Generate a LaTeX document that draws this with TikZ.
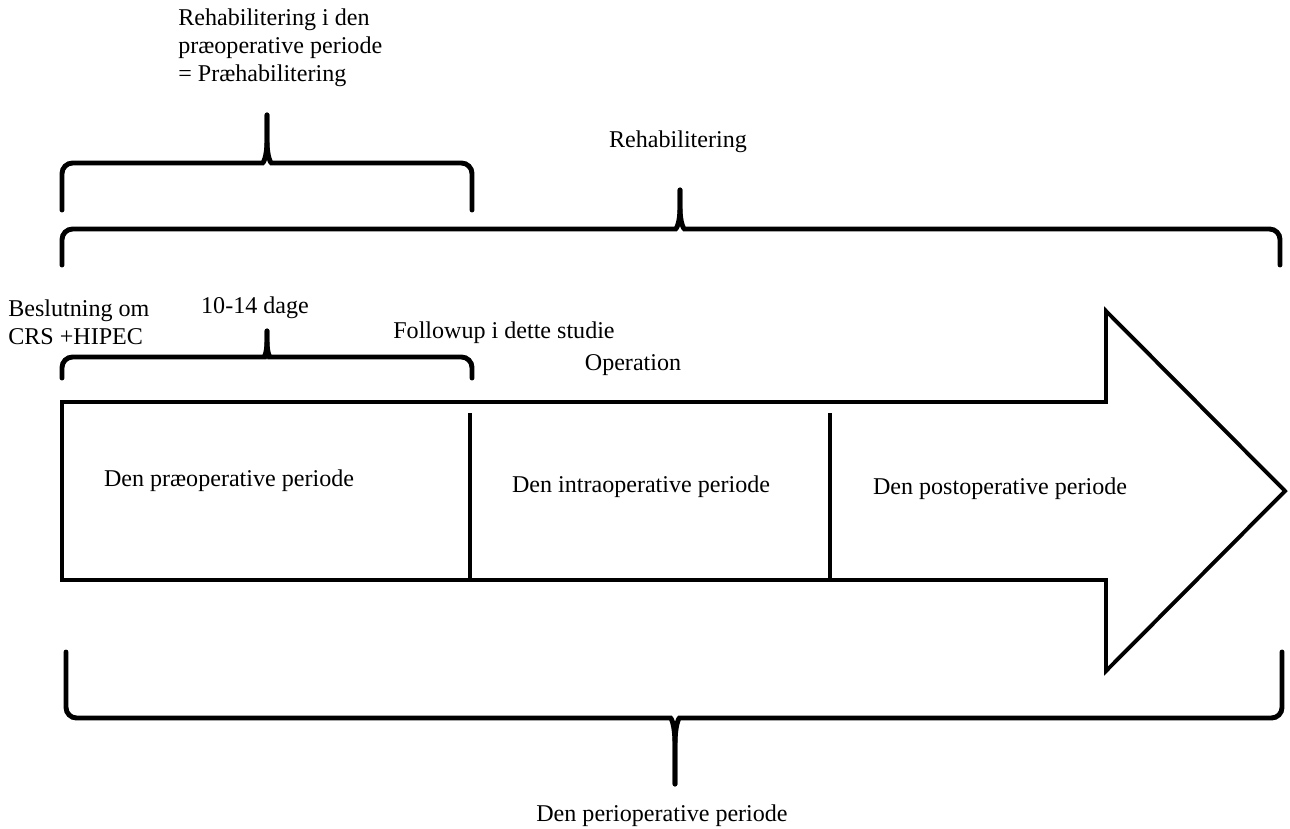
\documentclass[tikz,border=0pt]{standalone}
\usepackage{fontspec}
\setmainfont{Liberation Serif}
\usetikzlibrary{positioning}
\tikzset{
  brace/.style={line width=2.8pt, line cap=round},
  periodline/.style={line width=2.2pt},
  lbl/.style={font=\fontsize{13.7}{16}\selectfont, inner sep=0pt}
}

\begin{document}
\begin{tikzpicture}[x=0.02cm, y=-0.02cm]
\useasboundingbox (0,0) rectangle (1290,828);
% the big arrow
\draw[periodline, line join=miter] (62,402) -- (1106,402) -- (1106,311) -- (1285,491) -- (1106,671) -- (1106,580) -- (62,580) -- cycle;
\draw[periodline] (470,413) -- (470,580);
\draw[periodline] (830,413) -- (830,580);
% braces
\draw[brace] (62,210) [rounded corners=6pt] |- (252,163) [sharp corners] .. controls (263,163) and (267,158) .. (267,140) -- (267,115);
\draw[brace] (472,210) [rounded corners=6pt] |- (282,163) [sharp corners] .. controls (271,163) and (267,158) .. (267,140) -- (267,115);
\draw[brace] (62,265) [rounded corners=6pt] |- (665,229) [sharp corners] .. controls (676,229) and (680,224) .. (680,207) -- (680,190);
\draw[brace] (1280,265) [rounded corners=6pt] |- (695,229) [sharp corners] .. controls (684,229) and (680,224) .. (680,207) -- (680,190);
\draw[brace] (62,378) [rounded corners=6pt] |- (254,357) [sharp corners] .. controls (264,357) and (267,353) .. (267,341) -- (267,331);
\draw[brace] (472,378) [rounded corners=6pt] |- (280,357) [sharp corners] .. controls (270,357) and (267,353) .. (267,341) -- (267,331);
\draw[brace] (66,652) [rounded corners=6pt] |- (660,718) [sharp corners] .. controls (671,718) and (675,724) .. (675,745) -- (675,784);
\draw[brace] (1282,652) [rounded corners=6pt] |- (690,718) [sharp corners] .. controls (679,718) and (675,724) .. (675,745) -- (675,784);
% labels
\node[lbl, anchor=west, align=left] (prehab) at (178,48) {Rehabilitering i den\\præoperative periode\\= Præhabilitering};
\node[lbl] (rehab) at (678,142) {Rehabilitering};
\node[lbl, anchor=west, align=left] (decision) at (8,322) {Beslutning om\\CRS +HIPEC};
\node[lbl] (days) at (255,308) {10-14 dage};
\node[lbl, anchor=west] (followup) at (393,333) {Followup i dette studie};
\node[lbl] (operation) at (633,365) {Operation};
\node[lbl] (preop) at (229,481) {Den præoperative periode};
\node[lbl] (intraop) at (641,487) {Den intraoperative periode};
\node[lbl] (postop) at (1000,489) {Den postoperative periode};
\node[lbl] (periop) at (662,816) {Den perioperative periode};
\end{tikzpicture}
\end{document}
